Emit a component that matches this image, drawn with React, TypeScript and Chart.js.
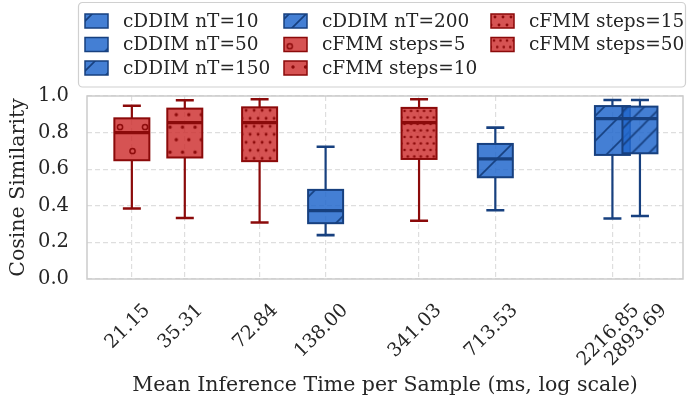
import React, { useEffect, useRef } from 'react';
import { Chart, registerables } from 'chart.js';

Chart.register(...registerables);

// ---------------- data ----------------
const seriesLabels = [
  'cDDIM nT=10',
  'cDDIM nT=50',
  'cDDIM nT=150',
  'cDDIM nT=200',
  'cFMM steps=5',
  'cFMM steps=10',
  'cFMM steps=15',
  'cFMM steps=50',
];
const meanTimes = [138.0, 713.53, 2216.85, 2893.69, 21.15, 35.31, 72.84, 341.03];
const whiskerLow = [0.24, 0.376, 0.331, 0.344, 0.385, 0.333, 0.309, 0.318];
const quartile1 = [0.305, 0.556, 0.678, 0.687, 0.649, 0.664, 0.644, 0.656];
const medians = [0.374, 0.656, 0.876, 0.876, 0.8, 0.854, 0.854, 0.854];
const quartile3 = [0.487, 0.738, 0.945, 0.942, 0.878, 0.931, 0.938, 0.935];
const whiskerHigh = [0.723, 0.827, 0.978, 0.978, 0.947, 0.977, 0.982, 0.982];
const xTickValues = [21.15, 35.31, 72.84, 138.0, 341.03, 713.53, 2216.85, 2893.69];
const yTickValues = [0, 0.2, 0.4, 0.6, 0.8, 1.0];

// ---------------- styles ----------------
const FONT = "'DejaVu Serif', serif";
const TEXT = '#262626';
const BLUE_FILL = 'rgba(35,105,205,0.85)';
const BLUE_EDGE = '#17407f';
const RED_FILL = 'rgba(205,45,45,0.82)';
const RED_EDGE = '#8b0a0a';
const BOX_W = 35;
const CAP_W = 18;
const XTICK_SIZE = 19;
const YTICK_SIZE = 19.5;
const LEGEND_SIZE = 18.5;
const TITLE_SIZE = 20.5;

type Hatch =
  | { kind: 'line'; spacing: number; ox: number; oy: number }
  | { kind: 'dot'; sx: number; sy: number; r: number; ring: boolean; ox: number; oy: number };

const seriesStyle = (i: number) => {
  const blue = seriesLabels[i].startsWith('cDDIM');
  const hatchTable: Hatch[] = [
    { kind: 'line', spacing: 54, ox: 7, oy: 0 },
    { kind: 'line', spacing: 38, ox: 34, oy: 0 },
    { kind: 'line', spacing: 25, ox: 10, oy: 0 },
    { kind: 'line', spacing: 17, ox: 5, oy: 0 },
    { kind: 'dot', sx: 25, sy: 24, r: 2.6, ring: true, ox: 5.7, oy: 8.7 },
    { kind: 'dot', sx: 12.5, sy: 12.5, r: 1.7, ring: false, ox: 9, oy: 6 },
    { kind: 'dot', sx: 8, sy: 8, r: 1.45, ring: false, ox: 4, oy: 3 },
    { kind: 'dot', sx: 6.5, sy: 6.5, r: 1.3, ring: false, ox: 3, oy: 3 },
  ];
  return {
    fill: blue ? BLUE_FILL : RED_FILL,
    edge: blue ? BLUE_EDGE : RED_EDGE,
    hatch: hatchTable[i],
  };
};

function makePattern(ctx: CanvasRenderingContext2D, h: Hatch, color: string): CanvasPattern | null {
  const c = document.createElement('canvas');
  if (h.kind === 'line') {
    const s = h.spacing;
    c.width = s;
    c.height = s;
    const g = c.getContext('2d')!;
    g.strokeStyle = color;
    g.lineWidth = 1.6;
    g.beginPath();
    for (const o of [-s, 0, s]) {
      g.moveTo(o - 2, s + 2);
      g.lineTo(o + s + 2, -2);
    }
    g.stroke();
  } else {
    c.width = Math.round(h.sx * 2);
    c.height = Math.round(h.sy * 2);
    const g = c.getContext('2d')!;
    g.fillStyle = color;
    g.strokeStyle = color;
    g.lineWidth = 1.5;
    for (let i = -1; i <= 3; i++) {
      for (let j = -1; j <= 3; j++) {
        const odd = ((i % 2) + 2) % 2 === 1;
        const px = j * h.sx + (odd ? h.sx / 2 : 0);
        const py = i * h.sy;
        g.beginPath();
        g.arc(px, py, h.r, 0, Math.PI * 2);
        if (h.ring) g.stroke();
        else g.fill();
      }
    }
  }
  return ctx.createPattern(c, 'repeat');
}

function fillHatched(ctx: CanvasRenderingContext2D, i: number, x: number, y: number, w: number, hgt: number) {
  const st = seriesStyle(i);
  ctx.fillStyle = st.fill;
  ctx.fillRect(x, y, w, hgt);
  const p = makePattern(ctx, st.hatch, st.edge);
  if (p) {
    p.setTransform(new DOMMatrix([1, 0, 0, 1, x + st.hatch.ox, y + st.hatch.oy]));
    ctx.fillStyle = p;
    ctx.fillRect(x, y, w, hgt);
  }
}

const boxPlugin = {
  id: 'boxPlots',
  beforeDatasetsDraw(chart: any) {
    const { ctx, chartArea: a } = chart;
    ctx.save();
    ctx.strokeStyle = '#cccccc';
    ctx.lineWidth = 1.5;
    ctx.strokeRect(a.left, a.top, a.right - a.left, a.bottom - a.top);
    ctx.restore();
  },
  afterDatasetsDraw(chart: any) {
    const { ctx } = chart;
    const xs = chart.scales.x;
    const ys = chart.scales.y;
    seriesLabels.forEach((_, i) => {
      const st = seriesStyle(i);
      const cx = xs.getPixelForValue(meanTimes[i]);
      const left = cx - BOX_W / 2;
      const yLo = ys.getPixelForValue(whiskerLow[i]);
      const yQ1 = ys.getPixelForValue(quartile1[i]);
      const yMed = ys.getPixelForValue(medians[i]);
      const yQ3 = ys.getPixelForValue(quartile3[i]);
      const yHi = ys.getPixelForValue(whiskerHigh[i]);
      ctx.save();
      ctx.strokeStyle = st.edge;
      ctx.lineWidth = 2.2;
      ctx.beginPath();
      ctx.moveTo(cx, yQ1);
      ctx.lineTo(cx, yLo);
      ctx.moveTo(cx, yQ3);
      ctx.lineTo(cx, yHi);
      ctx.stroke();
      ctx.lineWidth = 2.6;
      ctx.beginPath();
      ctx.moveTo(cx - CAP_W / 2, yLo);
      ctx.lineTo(cx + CAP_W / 2, yLo);
      ctx.moveTo(cx - CAP_W / 2, yHi);
      ctx.lineTo(cx + CAP_W / 2, yHi);
      ctx.stroke();
      fillHatched(ctx, i, left, yQ3, BOX_W, yQ1 - yQ3);
      ctx.strokeStyle = st.edge;
      ctx.lineWidth = 2;
      ctx.strokeRect(left, yQ3, BOX_W, yQ1 - yQ3);
      ctx.lineWidth = 3.2;
      ctx.beginPath();
      ctx.moveTo(left, yMed);
      ctx.lineTo(left + BOX_W, yMed);
      ctx.stroke();
      ctx.restore();
    });
  },
  afterDraw(chart: any) {
    const { ctx, chartArea } = chart;
    const xs = chart.scales.x;
    ctx.save();
    // x tick labels, rotated 45°, bounding box centred under each tick
    ctx.font = `${XTICK_SIZE}px ${FONT}`;
    ctx.fillStyle = TEXT;
    ctx.textAlign = 'center';
    ctx.textBaseline = 'middle';
    xs.ticks.forEach((t: any) => {
      const label = Number(t.value).toFixed(2);
      const L = ctx.measureText(label).width;
      const H = XTICK_SIZE * 0.95;
      const half = ((L + H) * Math.SQRT1_2) / 2;
      const cx = xs.getPixelForValue(t.value) - 4;
      const cy = chartArea.bottom + 22 + half;
      ctx.save();
      ctx.translate(cx, cy);
      ctx.rotate(-Math.PI / 4);
      ctx.fillText(label, 0, 0);
      ctx.restore();
    });
    // legend frame
    const fx = 78.5, fy = 2.5, fw = 607, fh = 84.5, r = 4;
    ctx.beginPath();
    ctx.moveTo(fx + r, fy);
    ctx.arcTo(fx + fw, fy, fx + fw, fy + fh, r);
    ctx.arcTo(fx + fw, fy + fh, fx, fy + fh, r);
    ctx.arcTo(fx, fy + fh, fx, fy, r);
    ctx.arcTo(fx, fy, fx + fw, fy, r);
    ctx.closePath();
    ctx.fillStyle = 'rgba(255,255,255,0.8)';
    ctx.fill();
    ctx.strokeStyle = '#d0d0d0';
    ctx.lineWidth = 1.2;
    ctx.stroke();
    const colX = [85, 284, 491];
    const rowY = [21, 44.5, 68];
    ctx.font = `${LEGEND_SIZE}px ${FONT}`;
    ctx.textBaseline = 'middle';
    ctx.textAlign = 'left';
    seriesLabels.forEach((lab, i) => {
      const col = Math.floor(i / 3);
      const row = i % 3;
      const px = colX[col];
      const py = rowY[row] - 7;
      const st = seriesStyle(i);
      fillHatched(ctx, i, px, py, 23, 14);
      ctx.strokeStyle = st.edge;
      ctx.lineWidth = 1.5;
      ctx.strokeRect(px, py, 23, 14);
      ctx.fillStyle = TEXT;
      ctx.fillText(lab, px + 38, rowY[row] + 1);
    });
    ctx.restore();
  },
};

export default function App() {
  const ref = useRef<HTMLCanvasElement | null>(null);
  useEffect(() => {
    if (!ref.current) return;
    const chart = new Chart(ref.current, {
      type: 'scatter',
      data: {
        datasets: seriesLabels.map((lab, i) => ({
          label: lab,
          data: [{ x: meanTimes[i], y: medians[i] }],
          pointRadius: 0,
          showLine: false,
        })),
      },
      options: {
        animation: false,
        responsive: false,
        devicePixelRatio: 1,
        layout: { padding: { top: 96, right: 4, left: 0, bottom: 0 } },
        plugins: { legend: { display: false }, tooltip: { enabled: false } },
        scales: {
          x: {
            type: 'logarithmic',
            min: 13.7,
            max: 4390,
            afterBuildTicks: (s: any) => {
              s.ticks = xTickValues.map((v) => ({ value: v }));
            },
            afterFit: (s: any) => {
              s.height = 129;
            },
            ticks: {
              display: false,
              autoSkip: false,
              callback: (v: any) => Number(v).toFixed(2),
            },
            grid: { color: '#dedede', lineWidth: 1.2, drawTicks: false },
            border: { display: false, dash: [5, 3] },
            title: {
              display: true,
              text: 'Mean Inference Time per Sample (ms, log scale)',
              color: TEXT,
              font: { family: FONT, size: TITLE_SIZE },
              padding: { top: 0, bottom: 10 },
            },
          },
          y: {
            type: 'linear',
            min: 0,
            max: 1,
            afterBuildTicks: (s: any) => {
              s.ticks = yTickValues.map((v) => ({ value: v }));
            },
            afterFit: (s: any) => {
              s.width = 87;
            },
            ticks: {
              padding: 18,
              color: TEXT,
              font: { family: FONT, size: YTICK_SIZE },
              callback: (v: any) => Number(v).toFixed(1),
            },
            grid: { color: '#dedede', lineWidth: 1.2, drawTicks: false },
            border: { display: false, dash: [5, 3] },
            title: {
              display: true,
              text: 'Cosine Similarity',
              color: TEXT,
              font: { family: FONT, size: TITLE_SIZE },
              padding: { top: 6, bottom: 0 },
            },
          },
        },
      },
      plugins: [boxPlugin],
    } as any);
    return () => chart.destroy();
  }, []);
  return (
    <div style={{ position: 'fixed', left: 0, top: 0, width: 687, height: 408, background: '#fff' }}>
      <canvas ref={ref} width={687} height={408} style={{ width: 687, height: 408, display: 'block' }} />
    </div>
  );
}
